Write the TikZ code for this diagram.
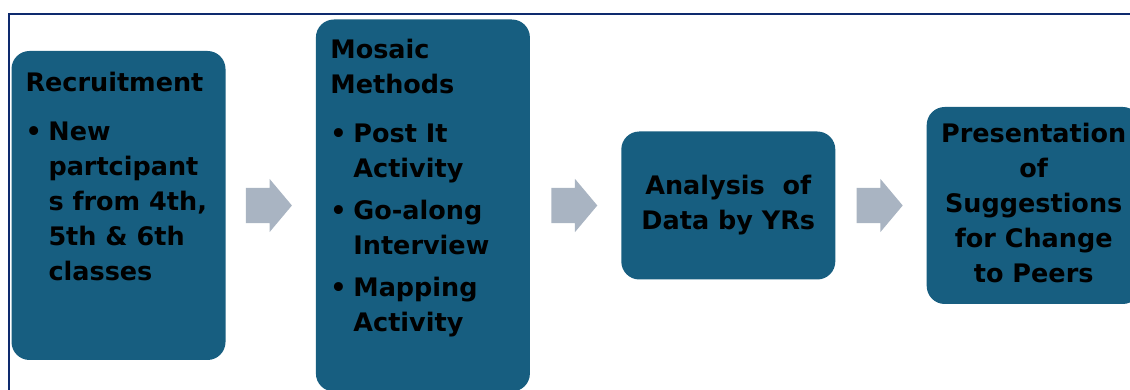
\documentclass[tikz,border=0pt]{standalone}
\usepackage{fontspec}
\setmainfont{DejaVu Sans}
\usetikzlibrary{positioning,shapes.arrows}

\definecolor{boxblue}{HTML}{175E80}
\definecolor{arrowgrey}{HTML}{A9B4C2}
\definecolor{framenavy}{HTML}{0E2A6E}

\newlength{\bulw}\setlength{\bulw}{23pt}
\newcommand{\bul}{\makebox[\bulw][l]{\textbullet}}

\begin{document}
\begin{tikzpicture}[x=1pt, y=1pt,
        stage/.style={rectangle, rounded corners=18pt, fill=boxblue, minimum width=214pt,
            inner sep=0pt, font=\bfseries\fontsize{25.5}{35}\selectfont},
        stagetext/.style={anchor=base west, inner sep=0pt, font=\bfseries\fontsize{25.5}{35}\selectfont},
        flow/.style={single arrow, fill=arrowgrey, inner xsep=0pt, inner ysep=17.5pt,
            minimum height=46pt, single arrow head extend=9pt, single arrow tip angle=100}]
        \useasboundingbox (0,0) rectangle (1130,390);
        \draw[framenavy, line width=2pt] (9,0) |- (1130,376);

        % the four stages
        \node[stage, minimum height=309pt] (b1) at (118.5,184.5) {};
        \node[stage, minimum height=372pt, right=90pt of b1] (b2) {};
        \node[stage, minimum height=148pt, right=91pt of b2] (b3)
            {\begin{tabular}{@{}c@{}}Analysis\ \ of\\Data by YRs\end{tabular}};
        \node[stage, minimum height=197pt, right=91pt of b3] (b4)
            {\begin{tabular}{@{}c@{}}Presentation\\of\\Suggestions\\for Change\\to Peers\end{tabular}};

        \node[stagetext] (t1) at ([xshift=14pt, yshift=-40.5pt]b1.north west)
            {\begin{tabular}[t]{@{}l@{}l@{}}
                \multicolumn{2}{@{}l@{}}{Recruitment}\\[14pt]
                \bul & New\\
                & partcipant\\
                & s from 4th,\\
                & 5th \& 6th\\
                & classes
            \end{tabular}};
        \node[stagetext] (t2) at ([xshift=14.5pt, yshift=-39.5pt]b2.north west)
            {\begin{tabular}[t]{@{}l@{}l@{}}
                \multicolumn{2}{@{}l@{}}{Mosaic}\\
                \multicolumn{2}{@{}l@{}}{Methods}\\[14pt]
                \bul & Post It\\
                & Activity\\[7pt]
                \bul & Go-along\\
                & Interview\\[7pt]
                \bul & Mapping\\
                & Activity
            \end{tabular}};

        % arrows between stages
        \node[flow, right=20pt of b1] (a1) {};
        \node[flow, right=21pt of b2] (a2) {};
        \node[flow, right=21pt of b3] (a3) {};
\end{tikzpicture}
\end{document}
